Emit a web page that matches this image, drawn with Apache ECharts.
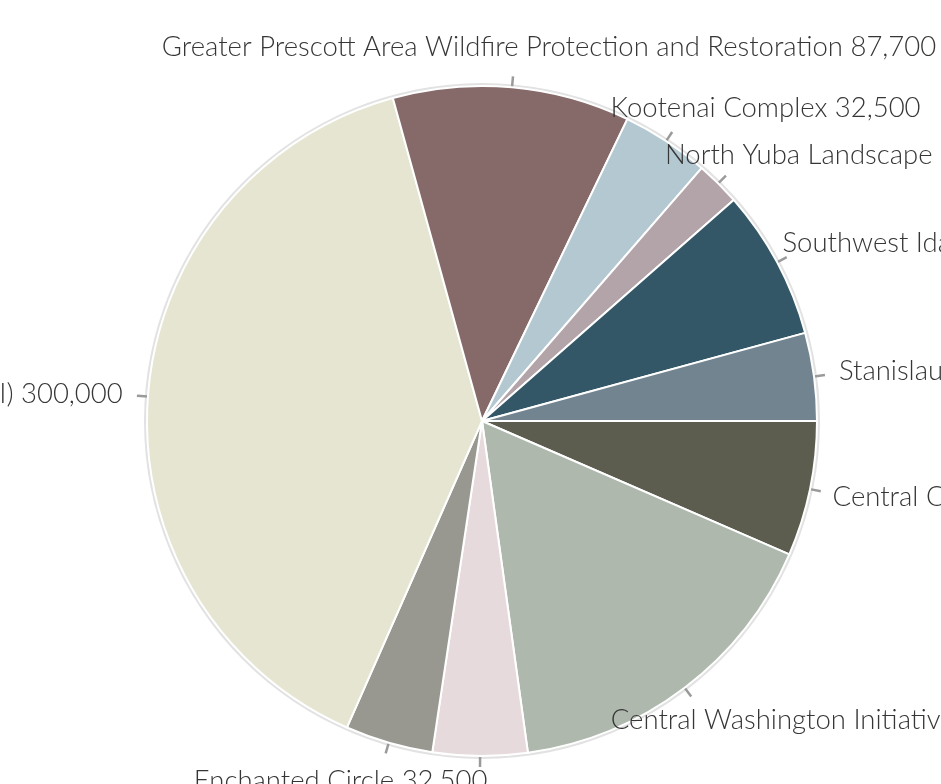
<!DOCTYPE html>
<html>
<head>
<meta charset="utf-8">
<script src="https://cdn.jsdelivr.net/npm/echarts@6/dist/echarts.min.js"></script>
<style>
html, body { margin: 0; padding: 0; background: #ffffff; }
#chart { width: 941px; height: 784px; }
</style>
</head>
<body>
<div id="chart"></div>
<script>
// Data (alphabetical order, drawn clockwise from 3 o'clock)
const names = [
  "Central Oregon",
  "Central Washington Initiative",
  "Colorado Front Range",
  "Enchanted Circle",
  "Four Forest Restoration Initiative (4FRI)",
  "Greater Prescott Area Wildfire Protection and Restoration",
  "Kootenai Complex",
  "North Yuba Landscape Resilience",
  "Southwest Idaho",
  "Stanislaus"
];
const values = [50000, 125000, 35000, 32500, 300000, 87700, 32500, 16500, 55500, 32500];
const colors = ["#5c5d4f", "#aeb8ad", "#e6dadc", "#989891", "#e5e5d1", "#866969", "#b4c8d1", "#b3a4aa", "#335767", "#728490"];

const chart = echarts.init(document.getElementById('chart'), null, { renderer: 'canvas' });

const GAP = 15;
const option = {
  animation: false,
  backgroundColor: '#ffffff',
  series: [
    {
      type: 'pie',
      silent: true,
      center: [482, 421],
      radius: 338,
      startAngle: 0,
      clockwise: true,
      z: 1,
      label: { show: false },
      labelLine: { show: false },
      itemStyle: { color: '#e2e2e2', borderWidth: 0 },
      data: [{ value: 1, name: '' }]
    },
    {
      type: 'pie',
      center: [482, 421],
      radius: 335,
      startAngle: 0,
      clockwise: true,
      avoidLabelOverlap: false,
      z: 2,
      itemStyle: { borderColor: '#ffffff', borderWidth: 2 },
      label: {
        show: true,
        position: 'outside',
        fontFamily: 'Lato',
        fontWeight: 300,
        fontSize: 27.5,
        color: '#363636',
        formatter: p => p.name + ' ' + p.value.toLocaleString('en-US')
      },
      labelLine: {
        show: true,
        length: 11,
        length2: 0,
        smooth: false,
        lineStyle: { color: '#9a9a9a', width: 2.5 }
      },
      labelLayout: function (params) {
        const pts = params.labelLinePoints;
        if (!pts) return {};
        const p0 = pts[0], p1 = pts[1];
        let dx = p1[0] - p0[0], dy = p1[1] - p0[1];
        const len = Math.sqrt(dx * dx + dy * dy) || 1;
        dx /= len; dy /= len;
        const ex = p1[0] + dx * GAP, ey = p1[1] + dy * GAP;
        const w = params.labelRect.width, h = params.labelRect.height;
        const fx = (1 - dx) / 2, fy = (1 - dy) / 2;
        return {
          x: ex - fx * w,
          y: ey - fy * h,
          align: 'left',
          verticalAlign: 'top',
          labelLinePoints: [p0, p1, p1]
        };
      },
      data: names.map((n, i) => ({ name: n, value: values[i], itemStyle: { color: colors[i] } }))
    }
  ]
};
chart.setOption(option);
</script>
</body>
</html>
